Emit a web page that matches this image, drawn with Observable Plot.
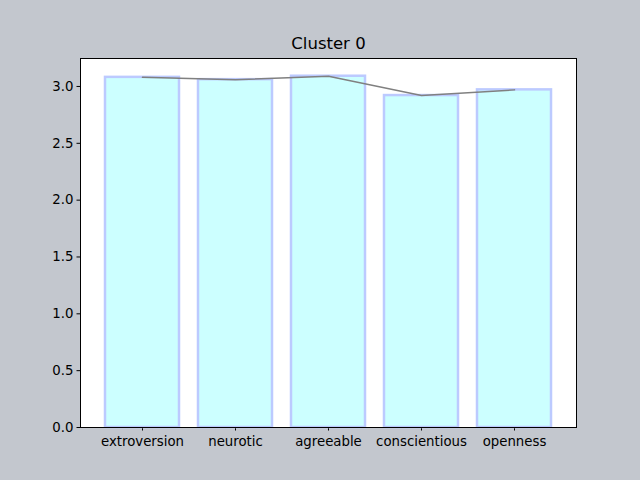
<!DOCTYPE html>
<html><head><meta charset="utf-8">
<script src="https://cdn.jsdelivr.net/npm/d3@7"></script>
<script src="https://cdn.jsdelivr.net/npm/@observablehq/plot@0.6"></script>
<style>body{margin:0;background:#c3c7ce;} svg{display:block}</style>
</head><body><div id="chart"></div><script>
const categories = ["extroversion","neurotic","agreeable","conscientious","openness"];
const barValues = [3.08, 3.06, 3.09, 2.92, 2.97];
const lineValues = [3.08, 3.06, 3.09, 2.92, 2.97];
const yTicks = [0, 0.5, 1, 1.5, 2, 2.5, 3];
const title = "Cluster 0";
const data = categories.map((c, i) => ({category: c, bar: barValues[i], line: lineValues[i]}));
const chart = Plot.plot({
  width: 640, height: 480,
  marginLeft: 80, marginRight: 64, marginTop: 58, marginBottom: 53,
  style: {background: "#c3c7ce", fontFamily: "DejaVu Sans", fontSize: "13.3px", color: "black"},
  x: {domain: categories, paddingInner: 0.2, paddingOuter: 0.24, label: null, tickSize: 3.5, tickPadding: 5.5},
  y: {domain: [0, 3.246], ticks: yTicks, tickFormat: d3.format(".1f"), label: null, tickSize: 3.5, tickPadding: 3.5},
  marks: [
    Plot.frame({fill: "white"}),
    Plot.barY(data, {x: "category", y: "bar", fill: "#ccffff", stroke: "#bccaff", strokeWidth: 2.5}),
    Plot.line(data, {x: "category", y: "line", stroke: "#808080", strokeWidth: 1.5}),
    Plot.frame({stroke: "black", strokeWidth: 1}),
    Plot.text([title], {frameAnchor: "top", lineAnchor: "middle", dy: -15, fontSize: 16.5, fill: "black"})
  ]
});
document.getElementById("chart").appendChild(chart);
</script></body></html>
